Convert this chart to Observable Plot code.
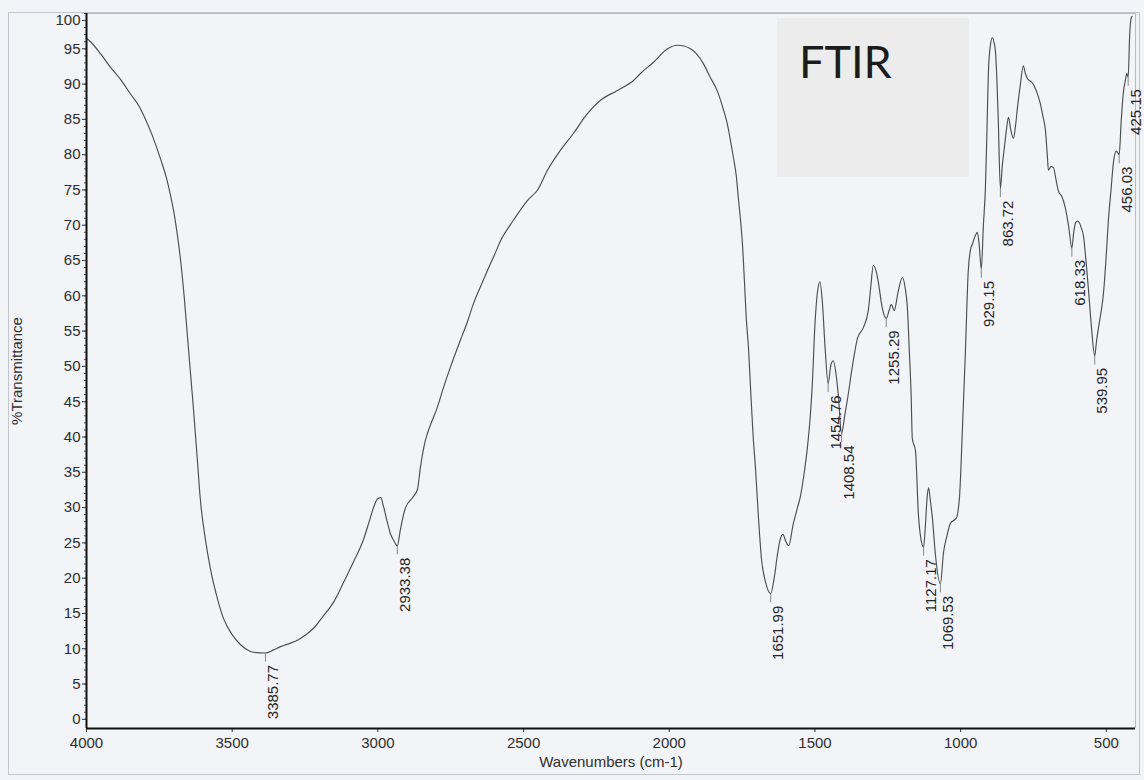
<!DOCTYPE html>
<html>
<head>
<meta charset="utf-8">
<script src="https://cdn.jsdelivr.net/npm/d3@7"></script>
<script src="https://cdn.jsdelivr.net/npm/@observablehq/plot@0.6"></script>
<style>
html, body { margin: 0; padding: 0; background: #f2f4f8; }
#wrap { position: relative; width: 1144px; height: 780px; overflow: hidden; }
#page { position: absolute; left: 8px; top: 12px; width: 1132px; height: 763px; border: 1px solid #c2c6cc; box-sizing: border-box; pointer-events: none; }
#chart { position: absolute; left: 0; top: 0; }
#inset { position: absolute; left: 777px; top: 18px; width: 192px; height: 159px; background: #ececec; }
</style>
</head>
<body>
<div id="wrap">
  <div id="page"></div>
  <div id="chart"></div>
  <div id="inset"><svg width="192" height="159"><text x="22" y="60" font-family="Lato, 'Open Sans', sans-serif" font-size="45" fill="#1c1c1c">FTIR</text></svg></div>
</div>
<script>
// Spectrum (wavenumber in cm-1, %T)
const wavenumber = [
  4000, 3986, 3950, 3918, 3880, 3849, 3820, 3804, 3775, 3746, 3725, 3712, 3700, 3688, 3677, 3665, 3653, 3643, 3633, 3620,
  3609, 3592, 3575, 3550, 3530, 3500, 3472, 3450, 3427, 3385.77, 3360, 3334, 3300, 3276, 3250, 3221, 3190, 3152, 3120, 3084,
  3050, 3030, 3015, 3000, 2990, 2981, 2968, 2957, 2945, 2933.38, 2923, 2912, 2905, 2881, 2864, 2854, 2840, 2830, 2815, 2796,
  2775, 2751, 2717, 2693, 2672, 2648, 2624, 2600, 2579, 2535, 2487, 2452, 2418, 2374, 2329, 2281, 2236, 2178, 2123, 2099,
  2054, 2006, 1972, 1950, 1927, 1905, 1883, 1860, 1835, 1815, 1801, 1790, 1780, 1770, 1763, 1755, 1749, 1742, 1736, 1728,
  1720, 1712, 1704, 1694, 1683, 1670, 1651.99, 1640, 1630, 1620, 1610, 1600, 1590, 1575, 1560, 1550, 1535, 1526, 1516, 1509,
  1500, 1490, 1483, 1475, 1465, 1454.76, 1445, 1437, 1428, 1420, 1408.54, 1398, 1389, 1372, 1354, 1334, 1317, 1308, 1300, 1290,
  1282, 1270, 1262, 1255.29, 1245, 1238, 1228, 1215, 1200, 1190, 1183, 1176, 1170, 1166, 1155, 1145, 1138, 1127.17, 1121, 1115,
  1110, 1104, 1097, 1087, 1069.53, 1059, 1047, 1035, 1015, 1004, 995, 984, 974, 966, 960, 950, 943, 937, 929.15, 922,
  915, 910, 905, 898, 891, 885, 881, 876, 871, 863.72, 857, 850, 843, 836, 828, 819, 812, 805, 795, 785,
  778, 771, 760, 751, 740, 727, 718, 709, 702, 699, 690, 682, 673, 665, 652, 641, 630, 618.33, 612, 606,
  598, 593, 585, 579, 570, 562, 552, 539.95, 534, 527, 519, 510, 500, 493, 484, 476, 466, 456.03, 449, 442,
  435, 430, 425.15, 420, 415, 412
];
const transmittance = [
  96.5, 96.0, 94.2, 92.4, 90.5, 88.6, 86.9, 85.6, 82.8, 79.4, 76.6, 74.3, 71.8, 68.6, 65.0, 60.0, 54.0, 49.0, 44.0, 37.0,
  31.0, 25.5, 21.4, 17.0, 14.3, 12.0, 10.6, 9.9, 9.5, 9.4, 9.8, 10.3, 10.8, 11.2, 11.9, 12.9, 14.5, 16.6, 19.2, 22.3,
  25.4, 28.0, 30.0, 31.3, 31.4, 30.2, 28.0, 26.3, 25.3, 24.6, 26.8, 29.0, 30.0, 31.4, 32.6, 35.7, 39.0, 40.5, 42.2, 44.2,
  47.0, 49.9, 53.7, 56.3, 58.9, 61.3, 63.6, 65.8, 67.8, 70.7, 73.5, 75.0, 77.8, 80.6, 83.0, 85.8, 87.7, 89.1, 90.5, 91.5,
  93.1, 95.0, 95.5, 95.4, 95.0, 94.2, 92.9, 91.0, 89.0, 86.5, 84.4, 82.0, 79.6, 77.0, 73.9, 70.5, 67.4, 62.0, 57.0, 52.5,
  46.0, 40.0, 35.5, 28.6, 22.5, 19.5, 17.8, 20.0, 23.0, 25.4, 26.2, 25.2, 24.6, 27.6, 30.0, 31.6, 35.5, 38.5, 43.0, 47.6,
  56.0, 61.0, 62.0, 59.3, 52.5, 47.6, 50.3, 50.8, 49.0, 46.0, 40.5, 43.0, 45.2, 49.9, 54.0, 55.5, 57.9, 61.5, 64.3, 63.5,
  61.8, 58.5, 57.2, 56.8, 58.0, 58.8, 57.9, 60.5, 62.6, 61.0, 58.4, 52.0, 46.0, 39.8, 38.0, 29.0, 26.0, 24.4, 27.5, 31.5,
  32.8, 31.0, 28.5, 23.5, 19.2, 23.6, 26.0, 27.8, 28.5, 31.5, 40.0, 51.8, 63.5, 66.6, 67.3, 68.5, 69.0, 67.5, 63.8, 70.0,
  75.4, 83.0, 91.5, 95.5, 96.6, 95.8, 94.8, 91.0, 85.0, 75.2, 78.5, 81.0, 83.5, 85.3, 83.5, 82.3, 84.0, 86.7, 90.0, 92.6,
  91.5, 90.8, 90.4, 90.0, 89.0, 87.3, 85.5, 83.4, 79.5, 77.8, 78.3, 78.2, 76.5, 74.9, 74.0, 72.5, 70.0, 66.8, 69.0, 70.3,
  70.6, 70.4, 69.5, 68.6, 65.0, 61.2, 56.0, 51.5, 53.5, 55.5, 57.5, 60.3, 66.0, 70.7, 75.0, 78.8, 80.5, 80.0, 84.8, 88.7,
  90.5, 91.5, 91.0, 97.0, 99.3, 99.6
];

// Labelled peaks
const peakWavenumber = [3385.77, 2933.38, 1651.99, 1454.76, 1408.54, 1255.29, 1127.17, 1069.53, 929.15, 863.72, 618.33, 539.95, 456.03, 425.15];
const peakTransmittance = [9.4, 24.6, 17.8, 47.6, 40.5, 56.8, 24.4, 19.2, 63.8, 75.2, 66.8, 51.5, 80.0, 91.0];

// Axes
const xTicks = [4000, 3500, 3000, 2500, 2000, 1500, 1000, 500];
const yTicks = [0, 5, 10, 15, 20, 25, 30, 35, 40, 45, 50, 55, 60, 65, 70, 75, 80, 85, 90, 95, 100];
const xDomain = [4000, 400];
const yDomain = [-1.3, 100];
const xLabel = "Wavenumbers (cm-1)";
const yLabel = "%Transmittance";

const spectrum = wavenumber.map((w, i) => ({w, t: transmittance[i]}));
const peaks = peakWavenumber.map((w, i) => ({w, t: peakTransmittance[i], label: w.toFixed(2)}));
const minorY = d3.range(0, 101, 1);

const font = "'Liberation Sans', Arial, Helvetica, sans-serif";

const chart = Plot.plot({
  width: 1144,
  height: 780,
  marginLeft: 86,
  marginRight: 9,
  marginTop: 13,
  marginBottom: 52,
  x: {domain: xDomain},
  y: {domain: yDomain},
  style: {fontFamily: font, fontSize: "15px", color: "#2e2e2e", background: "transparent", overflow: "visible"},
  marks: [
    Plot.ruleX([xDomain[1]], {stroke: "#b9bdc3", strokeWidth: 1}),
    Plot.ruleY([yDomain[1]], {stroke: "#b9bdc3", strokeWidth: 1}),
    Plot.line(spectrum, {x: "w", y: "t", stroke: "#4d4d4d", strokeWidth: 1.15, curve: "monotone-x"}),
    Plot.ruleX(peaks, {x: "w", y1: "t", y2: d => d.t - 1.3, stroke: "#7a7a7a", strokeWidth: 0.9}),
    Plot.text(peaks, {x: "w", y: "t", text: "label", rotate: -90, textAnchor: "end", lineAnchor: "top", dx: 2, dy: 12, fontSize: 15, fill: "#262626"}),
    Plot.axisX({ticks: xTicks, tickSize: 4, tickPadding: 5, fontSize: 15, label: null, tickFormat: d => `${d}`, stroke: "#333"}),
    Plot.axisY({ticks: yTicks.filter(d => d < 100), tickSize: 4, tickPadding: 2, fontSize: 15, label: null, tickFormat: d => `${d}`, stroke: "#333"}),
    Plot.axisY({ticks: yTicks.filter(d => d >= 100), tickSize: 4, tickPadding: 2, dy: 7, fontSize: 15, label: null, tickFormat: d => `${d}`, stroke: "#333"}),
    Plot.axisY({ticks: minorY, tickSize: 2, tickFormat: () => "", label: null, stroke: "#555"}),
    Plot.ruleX([xDomain[0]], {stroke: "#111", strokeWidth: 2}),
    Plot.ruleY([yDomain[0]], {stroke: "#111", strokeWidth: 2}),
    Plot.text([yLabel], {frameAnchor: "left", textAnchor: "middle", lineAnchor: "middle", dx: -69, rotate: -90, fontSize: 15, fill: "#2e2e2e"}),
    Plot.text([xLabel], {frameAnchor: "bottom", textAnchor: "middle", lineAnchor: "middle", dy: 34, fontSize: 15, fill: "#2e2e2e"})
  ]
});
document.getElementById("chart").appendChild(chart);
</script>
</body>
</html>
